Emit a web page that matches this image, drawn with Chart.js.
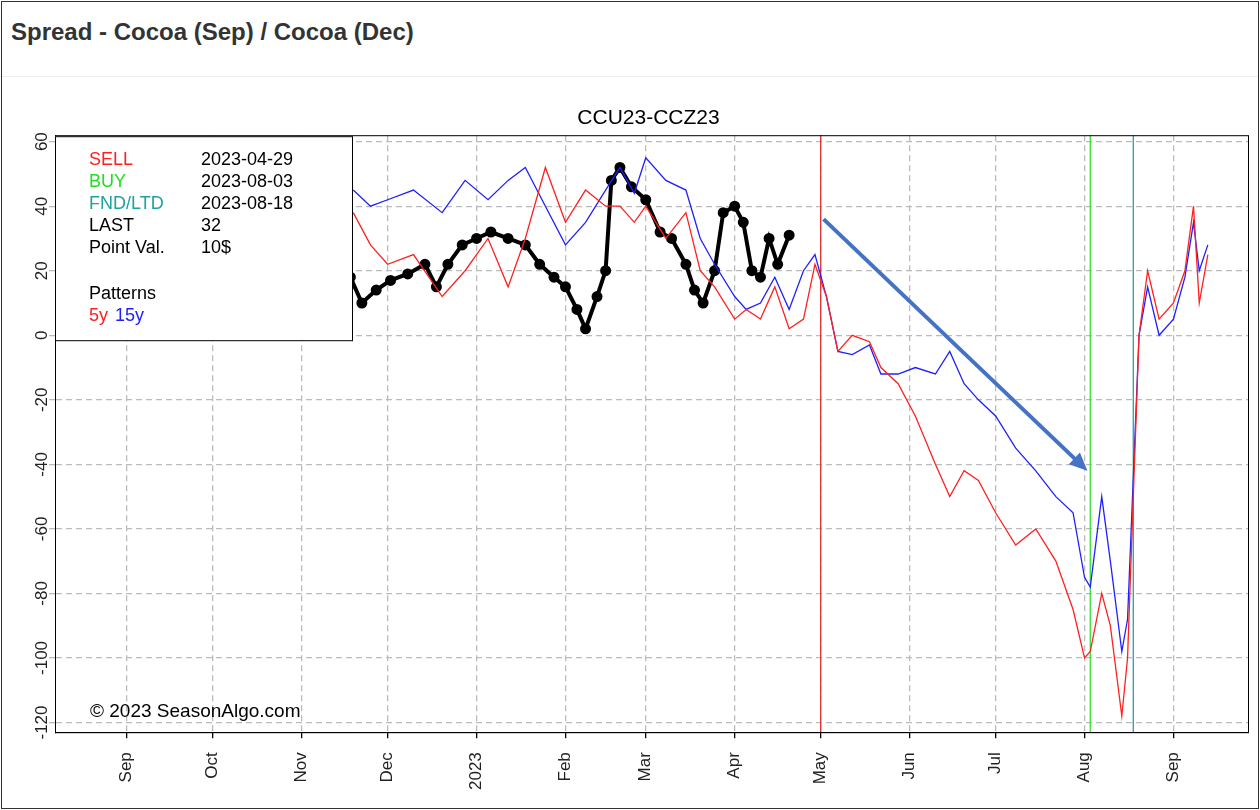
<!DOCTYPE html>
<html><head><meta charset="utf-8">
<script src="https://cdn.jsdelivr.net/npm/chart.js@4.4.0/dist/chart.umd.min.js"></script>
<style>
html,body{margin:0;padding:0;background:#fff;font-family:"Liberation Sans",sans-serif;}
#page{position:absolute;left:1px;top:1px;width:1256px;height:806px;border:1px solid #333;}
#ttl{position:absolute;left:9px;top:16px;font-size:24px;font-weight:bold;color:#333;}
#sep{position:absolute;left:0;top:74px;width:100%;border-top:1px solid #eee;}
#wrap{position:absolute;left:0;top:78px;width:1256px;height:728px;}
</style></head><body>
<div id="page"><div id="ttl">Spread - Cocoa (Sep) / Cocoa (Dec)</div><div id="sep"></div>
<div id="wrap"><canvas id="c"></canvas></div></div>
<script>
const monthTicks=["2022-09-01","2022-10-01","2022-11-01","2022-12-01","2023-01-01","2023-02-01","2023-03-01","2023-04-01","2023-05-01","2023-06-01","2023-07-01","2023-08-01","2023-09-01"];
const monthLabels=["Sep","Oct","Nov","Dec","2023","Feb","Mar","Apr","May","Jun","Jul","Aug","Sep"];
const yTicks=[60,40,20,0,-20,-40,-60,-80,-100,-120];
const blueDates=["2022-11-19","2022-11-25","2022-12-01","2022-12-10","2022-12-20","2022-12-28","2023-01-05","2023-01-12","2023-01-18","2023-01-25","2023-02-01","2023-02-08","2023-02-15","2023-02-20","2023-02-25","2023-03-01","2023-03-08","2023-03-15","2023-03-20","2023-03-25","2023-04-01","2023-04-05","2023-04-10","2023-04-15","2023-04-20","2023-04-25","2023-04-29","2023-05-03","2023-05-07","2023-05-12","2023-05-18","2023-05-22","2023-05-28","2023-06-03","2023-06-10","2023-06-15","2023-06-20","2023-06-25","2023-07-01","2023-07-08","2023-07-15","2023-07-22","2023-07-28","2023-08-01","2023-08-03","2023-08-07","2023-08-10","2023-08-14","2023-08-16","2023-08-20","2023-08-23","2023-08-27","2023-09-01","2023-09-05","2023-09-08","2023-09-10","2023-09-13"];
const blueVals=[45,40,42,45,38,48,42,48,52,40,28,35,45,52,44,55,48,45,30,22,12,8,10,18,8,20,25,12,-5,-6,-3,-12,-12,-10,-12,-5,-15,-20,-25,-35,-42,-50,-55,-75,-78,-50,-70,-98,-88,0,15,0,5,18,35,20,28];
const redVals=[38,28,22,25,12,20,30,15,30,52,35,45,40,40,35,40,30,38,20,15,5,8,5,15,2,5,22,12,-5,0,-2,-10,-15,-25,-40,-50,-42,-45,-55,-65,-60,-70,-85,-100,-98,-80,-90,-118,-100,0,20,5,10,20,40,10,25];
const blackDates=["2022-11-18","2022-11-22","2022-11-27","2022-12-02","2022-12-08","2022-12-14","2022-12-18","2022-12-22","2022-12-27","2023-01-01","2023-01-06","2023-01-12","2023-01-18","2023-01-23","2023-01-28","2023-02-01","2023-02-05","2023-02-08","2023-02-12","2023-02-15","2023-02-17","2023-02-20","2023-02-24","2023-03-01","2023-03-06","2023-03-10","2023-03-15","2023-03-18","2023-03-21","2023-03-25","2023-03-28","2023-04-01","2023-04-04","2023-04-07","2023-04-10","2023-04-13","2023-04-16","2023-04-20"];
const blackVals=[18,10,14,17,19,22,15,22,28,30,32,30,28,22,18,15,8,2,12,20,48,52,46,42,32,30,22,14,10,20,38,40,35,20,18,30,22,31];
const vLines=[["2023-05-01","#e03030"],["2023-08-03","#30e030"],["2023-08-18","#2aa0a0"]];
const arrowPts=[["2023-05-02",36],["2023-08-02",-42]];
const legendRows=[["SELL","2023-04-29","#ff2020"],["BUY","2023-08-03","#20e020"],["FND/LTD","2023-08-18","#20a0a0"],["LAST","32","#000"],["Point Val.","10$","#000"]];
const D=s=>Date.parse(s+"T00:00:00Z")/86400000;
const pts=(ds,vs)=>ds.map((d,i)=>({x:D(d),y:vs[i]}));
const F="'Liberation Sans'";
const overlay={id:"ov",
 beforeDatasetsDraw(ch){const {ctx,chartArea:a,scales:{x,y}}=ch;ctx.save();
  vLines.forEach(([d,c])=>{const px=x.getPixelForValue(D(d));ctx.strokeStyle=c;ctx.lineWidth=1.3;ctx.beginPath();ctx.moveTo(px,a.top);ctx.lineTo(px,a.bottom);ctx.stroke();});
  ctx.restore();},
 afterDraw(ch){const {ctx,chartArea:a,scales:{x,y}}=ch;ctx.save();
  ctx.strokeStyle="#000";ctx.lineWidth=1;ctx.strokeRect(a.left+0.5,a.top+0.5,a.right-a.left,a.bottom-a.top);
  ctx.font="17px "+F;ctx.fillStyle="#222";ctx.textAlign="center";ctx.textBaseline="middle";
  yTicks.forEach(v=>{const py=y.getPixelForValue(v);ctx.save();ctx.translate(a.left-13,py);ctx.rotate(-Math.PI/2);ctx.fillText(String(v),0,0);ctx.restore();});
  const x1=x.getPixelForValue(D(arrowPts[0][0])),y1=y.getPixelForValue(arrowPts[0][1]);
  const x2=x.getPixelForValue(D(arrowPts[1][0])),y2=y.getPixelForValue(arrowPts[1][1]);
  const ang=Math.atan2(y2-y1,x2-x1);ctx.strokeStyle="#4472c4";ctx.fillStyle="#4472c4";ctx.lineWidth=4;
  ctx.beginPath();ctx.moveTo(x1,y1);ctx.lineTo(x2-14*Math.cos(ang),y2-14*Math.sin(ang));ctx.stroke();
  ctx.beginPath();ctx.moveTo(x2,y2);ctx.lineTo(x2-18*Math.cos(ang)+8*Math.sin(ang),y2-18*Math.sin(ang)-8*Math.cos(ang));
  ctx.lineTo(x2-18*Math.cos(ang)-8*Math.sin(ang),y2-18*Math.sin(ang)+8*Math.cos(ang));ctx.closePath();ctx.fill();
  const bx=a.left,by=a.top+1,bw=297,bh=204;ctx.fillStyle="#fff";ctx.fillRect(bx,by,bw,bh);ctx.strokeStyle="#000";ctx.lineWidth=1;ctx.strokeRect(bx+0.5,by+0.5,bw,bh);
  ctx.font="18px "+F;ctx.textAlign="left";ctx.textBaseline="middle";
  legendRows.forEach((r,i)=>{const ty=by+24+i*22;ctx.fillStyle=r[2];ctx.fillText(r[0],bx+34,ty);ctx.fillStyle="#000";ctx.fillText(r[1],bx+146,ty);});
  ctx.fillStyle="#000";ctx.fillText("Patterns",bx+34,by+158);
  ctx.fillStyle="#ff2020";ctx.fillText("5y",bx+34,by+180);ctx.fillStyle="#2020ff";ctx.fillText("15y",bx+60,by+180);
  ctx.fillStyle="#000";ctx.font="19px "+F;ctx.fillText("© 2023 SeasonAlgo.com",a.left+35,a.bottom-20);
  ctx.restore();}};
new Chart(document.getElementById("c"),{type:"line",
 data:{datasets:[
  {data:pts(blueDates,redVals),borderColor:"#ff2020",borderWidth:1.3,pointRadius:0,tension:0},
  {data:pts(blueDates,blueVals),borderColor:"#2020ff",borderWidth:1.3,pointRadius:0,tension:0},
  {data:pts(blackDates,blackVals),borderColor:"#000",borderWidth:4,pointRadius:3.5,pointBackgroundColor:"#000",tension:0}]},
 options:{responsive:true,maintainAspectRatio:false,animation:false,
  layout:{padding:{left:47,right:10,top:0,bottom:4}},
  plugins:{legend:{display:false},tooltip:{enabled:false},
   title:{display:true,text:"CCU23-CCZ23",color:"#000",font:{family:"Liberation Sans",size:21,weight:"normal"},padding:{top:26,bottom:4}}},
  scales:{
   x:{type:"linear",min:D("2022-08-07"),max:D("2023-09-27"),
    afterBuildTicks(s){s.ticks=monthTicks.map(m=>({value:D(m)}));},
    ticks:{minRotation:90,maxRotation:90,color:"#222",font:{family:"Liberation Sans",size:17},padding:14,
     callback(v){const i=monthTicks.findIndex(m=>D(m)===v);return i>=0?monthLabels[i]:"";}},
    grid:{color:"#bbb",lineWidth:1.3,tickLength:6,tickColor:"#000"},border:{dash:[6,4],color:"#000"}},
   y:{min:-123,max:62,afterBuildTicks(s){s.ticks=yTicks.map(v=>({value:v}));},
    ticks:{display:false},grid:{color:"#bbb",lineWidth:1.3,tickLength:6},border:{dash:[6,4],color:"#000"}}}},
 plugins:[overlay]});
</script></body></html>
